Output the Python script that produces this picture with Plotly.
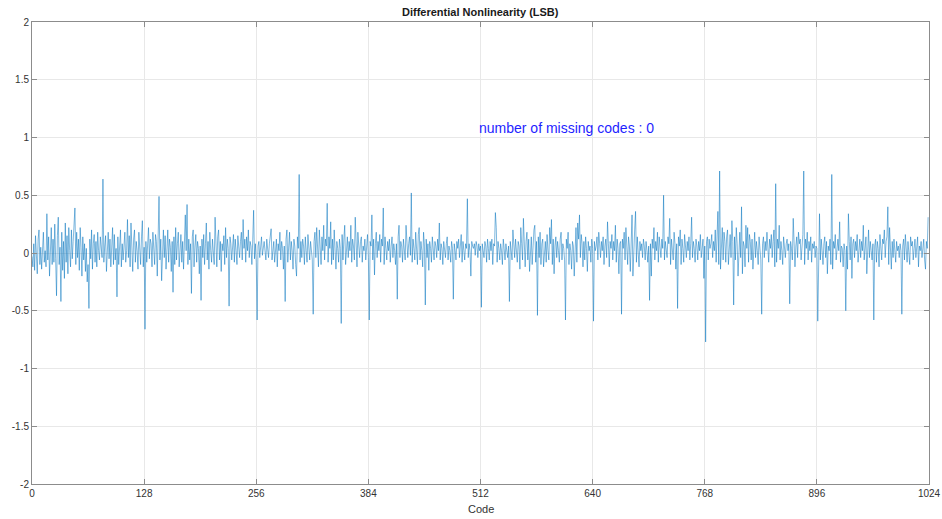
import plotly.graph_objects as go

# DNL values (LSB), one per code 0..1023, read row by row (32 codes per row)
dnl_rows = [
    [-0.03, -0.12, 0.08, -0.15, 0.15, -0.05, -0.18, 0.12, 0.20, -0.10, 0.05, -0.14, 0.10, 0.18, -0.08, 0.02,
     -0.12, 0.34, -0.06, 0.14, -0.20, 0.08, 0.22, -0.10, 0.12, -0.08, 0.25, -0.05, -0.37, 0.15, 0.31, -0.10],
    [0.05, -0.42, 0.18, -0.15, 0.10, -0.22, 0.26, -0.08, 0.15, -0.18, 0.22, 0.02, -0.12, 0.20, -0.05, 0.10,
     0.26, 0.39, -0.10, 0.18, -0.04, 0.12, -0.15, 0.22, 0.05, -0.20, 0.14, -0.06, 0.08, -0.16, 0.04, -0.25],
    [-0.10, -0.48, 0.12, -0.05, 0.20, -0.14, 0.08, 0.16, -0.08, 0.10, -0.12, 0.18, 0.02, -0.06, 0.14, 0.05,
     -0.04, 0.64, -0.08, 0.06, 0.15, -0.16, 0.10, 0.18, -0.05, 0.12, -0.12, 0.08, 0.22, -0.10, 0.16, -0.06],
    [0.04, -0.38, 0.14, -0.10, 0.06, 0.20, -0.12, 0.08, -0.06, 0.12, 0.18, -0.08, 0.02, 0.29, -0.04, 0.15,
     -0.12, 0.26, 0.04, -0.16, 0.12, 0.20, -0.08, 0.10, 0.02, -0.14, 0.18, 0.06, -0.10, 0.14, 0.28, -0.12],
    [0.05, -0.66, 0.10, -0.08, 0.14, 0.22, -0.05, 0.12, 0.08, -0.12, 0.18, 0.04, -0.10, 0.16, 0.10, -0.20,
     0.06, 0.49, -0.06, 0.12, -0.24, 0.08, 0.20, -0.04, 0.15, -0.14, 0.02, 0.20, -0.08, 0.12, 0.05, -0.16],
    [0.10, -0.34, 0.14, -0.10, 0.22, -0.06, 0.08, 0.18, -0.12, 0.04, 0.16, -0.08, 0.10, -0.14, 0.06, 0.33,
     0.02, 0.42, -0.10, 0.12, -0.06, 0.08, -0.35, 0.14, 0.20, -0.12, 0.06, 0.16, -0.08, 0.10, 0.04, -0.18],
    [0.06, -0.41, 0.12, -0.04, 0.16, -0.10, 0.08, 0.26, -0.06, 0.10, -0.14, 0.18, 0.02, -0.08, 0.12, 0.04,
     -0.10, 0.31, 0.06, -0.12, 0.14, 0.20, -0.06, 0.10, -0.16, 0.08, 0.02, 0.15, -0.10, 0.22, -0.04, 0.12],
    [0.04, -0.46, 0.14, 0.08, -0.06, 0.10, 0.16, -0.08, 0.12, 0.02, -0.10, 0.15, 0.06, -0.04, 0.10, 0.18,
     -0.06, 0.29, 0.04, 0.12, -0.08, 0.14, 0.02, 0.20, -0.04, 0.10, 0.06, -0.10, 0.12, 0.37, -0.05, 0.08],
    [-0.08, -0.58, 0.06, 0.10, -0.04, 0.08, 0.14, -0.02, 0.06, 0.10, 0.02, -0.06, 0.12, 0.04, -0.04, 0.08,
     0.14, 0.21, -0.06, 0.04, 0.10, -0.08, 0.06, 0.12, -0.12, 0.08, 0.02, 0.18, -0.06, 0.10, 0.04, -0.14],
    [0.06, -0.42, 0.12, 0.20, -0.08, 0.04, 0.18, -0.06, 0.10, 0.02, -0.14, 0.12, 0.06, -0.10, -0.20, 0.14,
     0.04, 0.68, -0.08, 0.10, -0.04, 0.12, 0.06, -0.10, 0.14, 0.02, -0.08, 0.16, 0.08, -0.06, 0.10, 0.04],
    [-0.06, -0.53, 0.10, 0.18, -0.04, 0.22, 0.06, -0.12, 0.20, 0.08, -0.10, 0.14, 0.02, 0.24, -0.06, 0.12,
     0.06, 0.43, -0.08, 0.14, 0.04, 0.27, -0.10, 0.12, -0.06, 0.20, 0.08, -0.14, 0.10, 0.04, -0.08, 0.12],
    [0.04, -0.61, 0.16, -0.06, 0.12, 0.24, -0.10, 0.08, 0.14, -0.04, 0.10, 0.02, 0.24, -0.08, 0.12, 0.06,
     -0.06, 0.31, 0.04, -0.12, 0.18, 0.08, -0.04, 0.10, 0.14, -0.08, 0.06, 0.02, 0.12, -0.06, 0.08, 0.16],
    [-0.04, -0.58, 0.10, 0.06, 0.33, -0.06, 0.12, -0.19, 0.08, 0.18, -0.04, 0.10, 0.02, 0.16, -0.08, 0.12,
     0.06, 0.39, -0.10, 0.14, 0.04, -0.06, 0.10, 0.02, 0.12, -0.08, 0.06, 0.14, -0.04, 0.08, 0.02, -0.10],
    [0.08, -0.40, 0.14, 0.24, -0.04, 0.10, 0.06, -0.08, 0.12, 0.02, -0.06, 0.24, 0.10, -0.04, 0.08, 0.14,
     -0.02, 0.52, -0.08, 0.12, 0.04, -0.06, 0.18, 0.08, -0.10, 0.16, 0.22, -0.06, 0.10, 0.02, -0.12, 0.18],
    [0.06, -0.45, 0.12, -0.04, 0.08, -0.15, 0.10, 0.04, -0.08, 0.14, 0.02, -0.06, 0.10, 0.06, -0.04, 0.12,
     0.02, 0.26, -0.06, 0.08, 0.04, -0.10, 0.10, 0.02, -0.04, 0.08, 0.14, -0.06, 0.06, 0.02, -0.08, 0.10],
    [0.04, -0.40, 0.08, 0.02, -0.06, 0.10, 0.04, 0.12, -0.04, 0.06, 0.16, -0.08, 0.10, 0.02, -0.06, 0.08,
     0.04, 0.47, -0.04, 0.08, 0.02, -0.20, 0.10, 0.06, 0.04, 0.08, -0.02, 0.10, 0.06, -0.04, 0.08, 0.02],
    [0.06, -0.47, 0.08, 0.02, -0.04, 0.10, 0.06, -0.08, 0.12, 0.04, -0.06, 0.10, 0.02, 0.12, -0.10, 0.08,
     0.06, 0.35, 0.22, -0.08, 0.10, 0.04, -0.06, 0.08, 0.02, -0.10, 0.12, 0.04, -0.06, 0.08, 0.02, -0.04],
    [0.06, -0.42, 0.10, 0.02, -0.06, 0.20, 0.08, -0.04, 0.12, 0.04, -0.08, 0.10, 0.06, -0.14, 0.22, 0.08,
     -0.06, 0.30, 0.04, -0.12, 0.10, 0.18, -0.06, 0.12, -0.16, 0.08, 0.14, -0.10, 0.06, 0.20, 0.24, -0.08],
    [0.10, -0.54, 0.14, -0.04, 0.18, -0.10, 0.08, 0.12, -0.12, 0.06, 0.10, -0.08, 0.16, 0.02, -0.06, 0.22,
     0.08, 0.29, -0.10, 0.12, -0.18, 0.06, 0.14, -0.04, 0.10, 0.02, -0.08, 0.12, 0.18, -0.06, 0.08, 0.04],
    [-0.06, -0.58, 0.12, 0.04, 0.18, -0.10, 0.08, 0.02, -0.14, 0.10, 0.06, -0.20, 0.14, 0.22, -0.08, 0.26,
     0.12, 0.33, -0.04, 0.16, 0.08, -0.12, 0.10, -0.06, 0.14, 0.04, -0.16, 0.10, 0.02, 0.06, -0.08, 0.12],
    [0.04, -0.59, 0.10, 0.02, 0.06, 0.14, -0.06, 0.18, 0.08, -0.04, 0.10, 0.02, 0.14, -0.10, 0.06, 0.12,
     -0.04, 0.27, 0.08, -0.12, 0.10, 0.04, 0.16, -0.06, 0.10, 0.02, 0.24, -0.08, 0.12, 0.04, -0.18, 0.08],
    [0.10, -0.53, 0.12, 0.04, 0.18, -0.06, 0.22, 0.08, -0.10, 0.14, 0.06, -0.16, 0.12, 0.33, -0.20, 0.10,
     0.20, 0.36, -0.08, 0.14, 0.04, -0.12, 0.10, 0.02, 0.08, -0.04, 0.12, 0.06, -0.06, 0.10, 0.02, -0.08],
    [0.06, -0.41, 0.08, -0.20, 0.12, 0.04, 0.22, -0.06, 0.10, 0.02, 0.18, -0.08, 0.14, 0.06, -0.04, 0.12,
     0.04, 0.50, -0.06, 0.10, 0.02, -0.04, 0.14, 0.08, 0.30, -0.10, 0.12, 0.04, -0.06, 0.18, 0.08, -0.14],
    [0.08, -0.48, 0.14, 0.06, 0.20, -0.10, 0.12, 0.04, -0.08, 0.16, 0.06, -0.04, 0.10, 0.02, 0.14, -0.06,
     0.08, 0.31, -0.04, 0.10, 0.04, -0.08, 0.12, 0.06, -0.06, 0.10, 0.02, 0.16, -0.04, 0.08, 0.12, -0.22],
    [0.06, -0.77, 0.10, 0.14, -0.06, 0.12, 0.04, 0.08, 0.16, -0.04, 0.10, 0.02, 0.20, -0.08, 0.12, 0.36,
     -0.10, 0.71, -0.14, 0.12, 0.22, -0.06, 0.18, 0.10, -0.08, 0.14, 0.20, -0.10, 0.08, 0.16, -0.04, 0.28],
    [0.10, -0.45, 0.14, -0.06, 0.22, 0.08, -0.20, 0.12, 0.18, -0.04, 0.40, -0.18, 0.10, 0.06, -0.12, 0.24,
     0.04, 0.22, -0.08, 0.16, 0.10, -0.06, 0.12, -0.14, 0.08, 0.18, -0.04, 0.10, 0.02, -0.10, 0.14, 0.06],
    [-0.06, -0.53, 0.08, 0.14, -0.04, 0.10, 0.02, 0.18, 0.06, -0.08, 0.12, 0.04, 0.16, -0.04, 0.10, 0.20,
     -0.12, 0.60, -0.08, 0.12, 0.04, 0.24, -0.06, 0.10, 0.02, -0.10, 0.14, 0.06, -0.04, 0.08, 0.12, 0.02],
    [0.08, -0.44, 0.10, 0.04, -0.06, 0.30, 0.12, -0.12, 0.06, 0.14, -0.04, 0.18, 0.08, 0.12, -0.06, 0.10,
     0.16, 0.71, -0.10, 0.12, 0.04, 0.18, -0.06, 0.10, 0.02, 0.14, -0.08, 0.08, 0.04, 0.10, -0.04, 0.06],
    [0.04, -0.59, 0.06, 0.34, -0.06, 0.12, 0.02, -0.10, 0.08, 0.14, -0.04, 0.10, -0.18, 0.06, 0.02, 0.12,
     -0.10, 0.68, -0.14, 0.10, 0.04, 0.16, -0.06, 0.08, 0.12, 0.02, 0.27, -0.08, 0.06, 0.04, -0.12, 0.08],
    [0.02, -0.50, 0.06, -0.14, 0.34, 0.10, -0.06, 0.14, -0.22, 0.08, 0.12, -0.04, 0.10, 0.02, 0.16, -0.08,
     0.06, 0.12, -0.04, 0.10, 0.02, 0.24, -0.06, 0.08, 0.14, -0.18, 0.06, 0.20, -0.04, 0.10, 0.02, -0.06],
    [0.08, -0.58, 0.06, 0.12, -0.08, 0.10, 0.04, -0.12, 0.16, 0.02, -0.06, 0.12, 0.08, 0.20, -0.04, 0.10,
     0.14, 0.40, -0.10, 0.22, 0.06, -0.14, 0.10, -0.04, 0.12, 0.04, -0.08, 0.10, 0.02, 0.06, -0.04, 0.08],
    [0.02, -0.53, 0.06, 0.12, -0.06, 0.16, 0.04, -0.08, 0.10, 0.02, -0.10, 0.14, 0.06, 0.10, -0.06, 0.04,
     0.12, -0.04, 0.08, 0.14, -0.12, 0.06, 0.02, 0.10, -0.04, 0.08, 0.12, -0.06, -0.14, 0.10, 0.04, 0.31],
]

dnl = [v for row in dnl_rows for v in row]
codes = list(range(len(dnl)))

x_ticks = [0, 128, 256, 384, 512, 640, 768, 896, 1024]
y_ticks = [-2, -1.5, -1, -0.5, 0, 0.5, 1, 1.5, 2]
y_tick_labels = ["-2", "-1.5", "-1", "-0.5", "0", "0.5", "1", "1.5", "2"]

title_text = "Differential Nonlinearity (LSB)"
x_label = "Code"
note_text = "number of missing codes : 0"

FONT = "Liberation Sans, Arial, sans-serif"

fig = go.Figure()
fig.add_trace(go.Scatter(
    x=codes, y=dnl, mode="lines",
    line=dict(color="rgba(0,114,189,0.85)", width=0.6),
    showlegend=False, hoverinfo="skip",
))

axis_common = dict(
    showgrid=True, gridcolor="#e8e8e8", gridwidth=1,
    showline=True, linecolor="#8c8c8c", linewidth=1, mirror="ticks",
    ticks="inside", ticklen=5, tickcolor="#8c8c8c",
    zeroline=False, automargin=False, ticklabeloverflow="allow",
    tickfont=dict(family=FONT, size=10, color="#333333"),
)

fig.update_layout(
    width=942, height=519,
    margin=dict(l=32, r=13, t=22, b=35, autoexpand=False),
    paper_bgcolor="white", plot_bgcolor="white",
    xaxis=dict(range=[0, 1024], tickvals=x_ticks, **axis_common),
    yaxis=dict(range=[-2, 2], tickvals=y_ticks, ticktext=y_tick_labels, **axis_common),
    annotations=[
        dict(text="<b>" + title_text + "</b>", xref="paper", yref="paper", x=0.5, y=1,
             xanchor="center", yanchor="bottom", yshift=2, showarrow=False,
             font=dict(family=FONT, size=11, color="#1a1a1a")),
        dict(text=x_label, xref="paper", yref="paper", x=0.5, y=0,
             xanchor="center", yanchor="top", yshift=-17, showarrow=False,
             font=dict(family=FONT, size=11, color="#333333")),
        dict(text=note_text, xref="x", yref="y", x=508, y=1.08,
             xanchor="left", yanchor="middle", showarrow=False,
             font=dict(family=FONT, size=14, color="#1f1fff")),
    ],
)

# remove the default page margin so the 942x519 figure fills the window exactly
fig.write_html(
    "out.html",
    config={"displayModeBar": False},
    post_script="document.body.style.margin='0';document.body.style.overflow='hidden';",
)
